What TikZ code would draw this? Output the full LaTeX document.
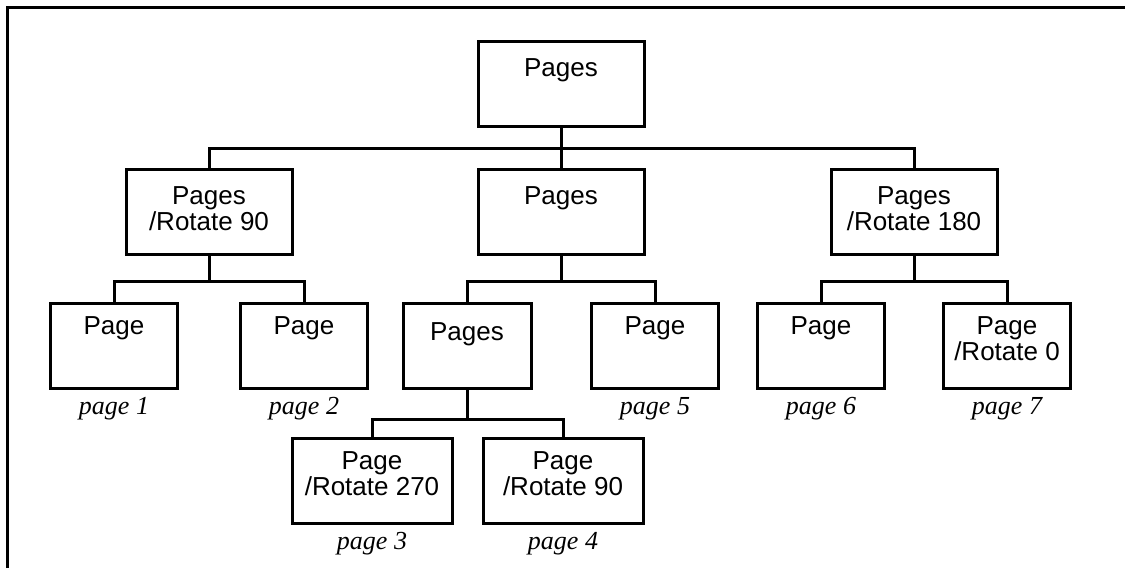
\documentclass[tikz,border=0pt]{standalone}
\usepackage{fontspec}
\setmainfont{Liberation Serif}
\newfontfamily\boxfont{Liberation Sans}

\tikzset{
    wire/.style={line width=3pt},
    pbox/.style={draw, line width=3pt, inner sep=0pt, minimum height=85pt},
    boxtxt/.style={font=\boxfont\fontsize{26}{26}\selectfont, align=center, anchor=north, inner sep=0pt},
    pagenum/.style={font=\itshape\fontsize{26}{26}\selectfont, anchor=base, inner sep=0pt},
}

\begin{document}
\begin{tikzpicture}[x=1pt, y=-1pt]
        \useasboundingbox (0,0) rectangle (1125,568);

        % Frame
        \draw[line width=3pt] (7,568) -- (7,7.5) -- (1125,7.5);

        % Root
        \node[pbox, minimum width=166pt] (root) at (561,83.5) {};
        \node[boxtxt] (roottxt) at ([yshift=-19pt]root.north) {Pages};

        % Second level
        \node[pbox, minimum width=166pt] (lft) at (209,211.5) {};
        \node[pbox, minimum width=166pt] (mid) at (561,211.5) {};
        \node[pbox, minimum width=166pt] (rgt) at (914,211.5) {};
        \node[boxtxt] (lfttxt) at ([yshift=-19pt]lft.north) {Pages\\/Rotate 90};
        \node[boxtxt] (midtxt) at ([yshift=-19pt]mid.north) {Pages};
        \node[boxtxt] (rgttxt) at ([yshift=-19pt]rgt.north) {Pages\\/Rotate 180};

        % Third level
        \node[pbox, minimum width=127pt] (p1) at (114,346) {};
        \node[pbox, minimum width=127pt] (p2) at (304,346) {};
        \node[pbox, minimum width=128pt] (sub) at (467,346) {};
        \node[pbox, minimum width=127pt] (p5) at (655,346) {};
        \node[pbox, minimum width=127pt] (p6) at (821,346) {};
        \node[pbox, minimum width=127pt] (p7) at (1007,346) {};
        \foreach \n in {p1,p2,p5,p6}
            \node[boxtxt] (\n txt) at ([yshift=-14pt]\n.north) {Page};
        \node[boxtxt] (subtxt) at ([yshift=-20pt]sub.north) {Pages};
        \node[boxtxt] (p7txt) at ([yshift=-14pt]p7.north) {Page\\/Rotate 0};

        % Fourth level
        \node[pbox, minimum width=160pt] (p3) at (372,481) {};
        \node[pbox, minimum width=160pt] (p4) at (563,481) {};
        \node[boxtxt] (p3txt) at ([yshift=-14pt]p3.north) {Page\\/Rotate 270};
        \node[boxtxt] (p4txt) at ([yshift=-14pt]p4.north) {Page\\/Rotate 90};

        % Page numbers
        \foreach \n/\t in {p1/1,p2/2,p3/3,p4/4,p5/5,p6/6,p7/7}
            \node[pagenum] (\n num) at ([yshift=-24pt]\n.south) {page \t};

        % Connectors
        \draw[wire] (root.south) -- (mid.north);
        \foreach \kid in {lft,rgt}
            \draw[wire] (root.south) -- ++(0,21) -| (\kid.north);
        \foreach \kid in {p1,p2}
            \draw[wire] (lft.south) -- ++(0,26) -| (\kid.north);
        \foreach \kid in {sub,p5}
            \draw[wire] (mid.south) -- ++(0,26) -| (\kid.north);
        \foreach \kid in {p6,p7}
            \draw[wire] (rgt.south) -- ++(0,26) -| (\kid.north);
        \foreach \kid in {p3,p4}
            \draw[wire] (sub.south) -- ++(0,29) -| (\kid.north);

\end{tikzpicture}
\end{document}
